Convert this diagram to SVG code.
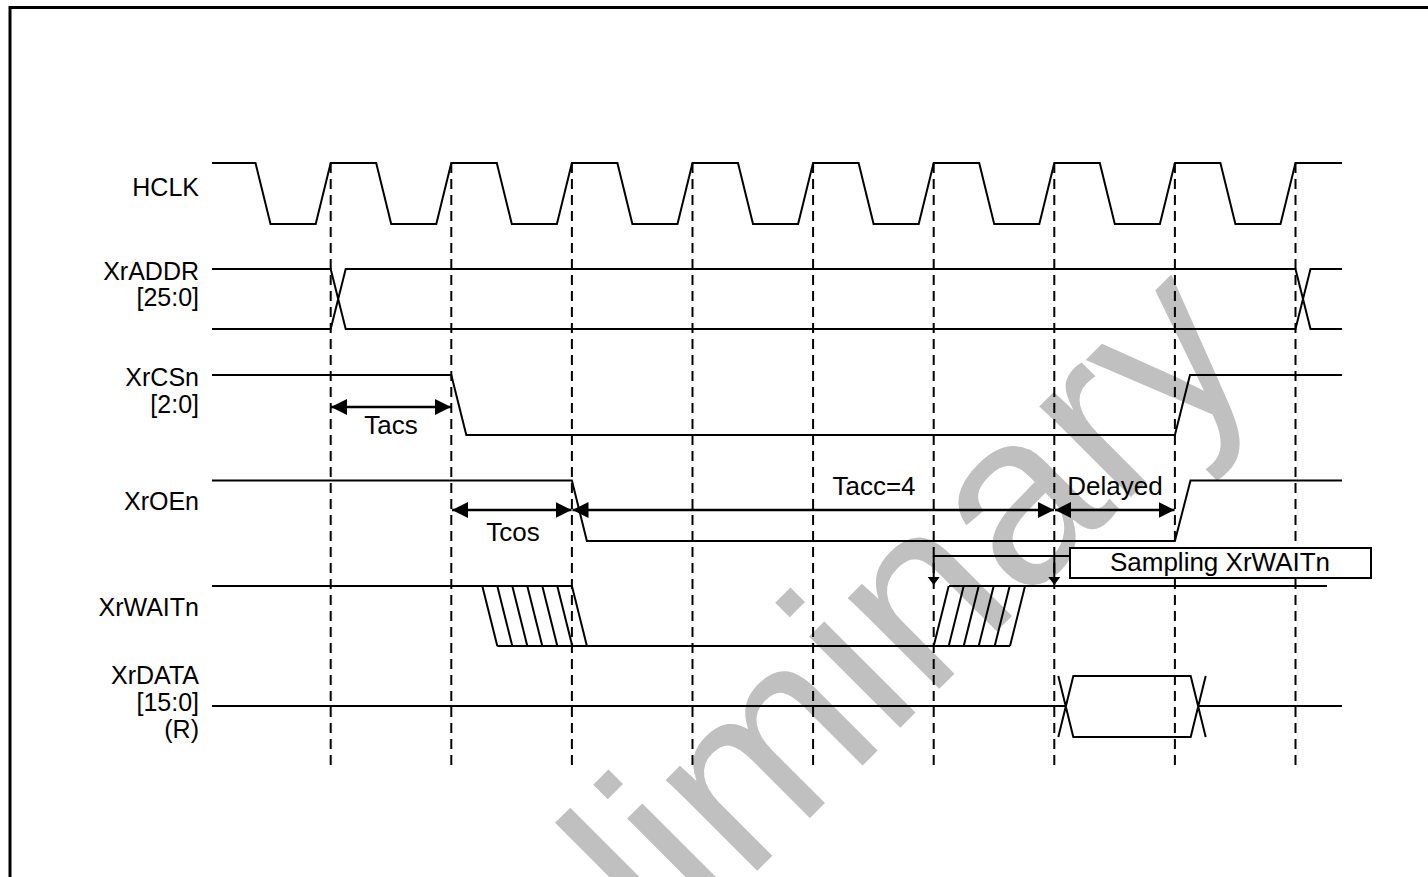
<svg xmlns="http://www.w3.org/2000/svg" width="1428" height="877" viewBox="0 0 1428 877">
<style>
.sig{fill:none;stroke:#000;stroke-width:2;stroke-linejoin:miter}
.dash{fill:none;stroke:#000;stroke-width:2;stroke-dasharray:10 6}
.dim{fill:none;stroke:#000;stroke-width:2.5}
.lbl{font-family:"Liberation Sans",Arial,sans-serif;font-size:26px;fill:#000}
.sl{font-family:"Liberation Sans",Arial,sans-serif;font-size:25px;fill:#000;text-anchor:end}
.c{text-anchor:middle}
</style>
<defs>
<marker id="ah" viewBox="0 0 16 16" refX="16" refY="8" markerWidth="16" markerHeight="16" markerUnits="userSpaceOnUse" orient="auto-start-reverse">
<path d="M0,0 L16,8 L0,16 z" fill="#000"/>
</marker>
</defs>
<rect x="0" y="0" width="1428" height="877" fill="#fff"/>
<text transform="translate(400,1228) rotate(-45)" font-family="Liberation Sans,Arial,sans-serif" font-size="244" fill="#c0c0c0">Preliminary</text>
<rect x="10" y="7.5" width="1440" height="900" fill="none" stroke="#000" stroke-width="3"/>

<g id="connectors">
<path class="dash" d="M330.7,163V770M451.3,163V770M571.9,163V770M692.5,163V770M813.1,163V770M933.7,163V770M1054.3,163V770M1174.9,163V770M1295.5,163V770"/>
<line class="dim" x1="331" y1="407" x2="451" y2="407" marker-start="url(#ah)" marker-end="url(#ah)"/>
<line class="dim" x1="452" y1="510" x2="571.5" y2="510" marker-start="url(#ah)" marker-end="url(#ah)"/>
<line class="dim" x1="572.5" y1="510" x2="1054" y2="510" marker-start="url(#ah)" marker-end="url(#ah)"/>
<line class="dim" x1="1055" y1="510" x2="1174.5" y2="510" marker-start="url(#ah)" marker-end="url(#ah)"/>
<path class="sig" d="M933.7,556H1070M933.7,556V578M1054.3,556V578"/>
<path d="M927.7,577 L939.7,577 L933.7,585z M1048.3,577 L1060.3,577 L1054.3,585z" fill="#000"/>
<text class="lbl c" x="391" y="434">Tacs</text>
<text class="lbl c" x="513" y="541">Tcos</text>
<text class="lbl c" x="874" y="495">Tacc=4</text>
<text class="lbl c" x="1115" y="495">Delayed</text>
</g>

<g id="hclk">
<text class="sl" x="199" y="196">HCLK</text>
<path class="sig" d="M212,163 H255.5 L270.5,224 H315.7 L330.7,163 H376.2 L391.2,224 H436.3 L451.3,163 H496.8 L511.8,224 H556.9 L571.9,163 H617.4 L632.4,224 H677.5 L692.5,163 H738 L753,224 H798.1 L813.1,163 H858.6 L873.6,224 H918.7 L933.7,163 H979.2 L994.2,224 H1039.3 L1054.3,163 H1099.8 L1114.8,224 H1159.9 L1174.9,163 H1220.4 L1235.4,224 H1280.5 L1295.5,163 H1342"/>
</g>

<g id="xraddr">
<text class="sl" x="199" y="280">XrADDR</text>
<text class="sl" x="199" y="306">[25:0]</text>
<path class="sig" d="M212,269 H330.7 L345.7,329 H1295.5 L1310.5,269 H1342 M212,329 H330.7 L345.7,269 H1295.5 L1310.5,329 H1342"/>
</g>

<g id="xrcsn">
<text class="sl" x="199" y="386">XrCSn</text>
<text class="sl" x="199" y="413">[2:0]</text>
<path class="sig" d="M212,375 H451.3 L466.3,435 H1174.9 L1190,375 H1342"/>
</g>

<g id="xroen">
<text class="sl" x="199" y="510">XrOEn</text>
<path class="sig" d="M212,480.5 H571.9 L586.9,541 H1174.9 L1190.5,480.5 H1342"/>
</g>

<g id="xrwaitn">
<text class="sl" x="199" y="616">XrWAITn</text>
<path class="sig" d="M212,586 H571.9 L586.9,646 M497.3,646 H1010 M949,586 H1327"/>
<path class="sig" stroke-width="1.5" d="M482.3,586 L497.3,646 M497.3,586 L512.3,646 M512.3,586 L527.3,646 M527.3,586 L542.3,646 M542.3,586 L557.3,646 M557.3,586 L572.3,646 M933.7,646 L948.7,586 M948.7,646 L963.7,586 M963.7,646 L978.7,586 M978.7,646 L993.7,586 M994.7,646 L1009.7,586 M1010,646 L1025,586"/>
</g>

<g id="sampling">
<rect x="1070" y="548" width="301" height="30" fill="#fff" stroke="#000" stroke-width="2"/>
<text class="lbl c" x="1220" y="571">Sampling XrWAITn</text>
</g>

<g id="xrdata">
<text class="sl" x="199" y="684">XrDATA</text>
<text class="sl" x="199" y="711">[15:0]</text>
<text class="sl" x="199" y="738">(R)</text>
<path class="sig" d="M212,706 H1065.8 M1198.2,706 H1342 M1058.3,676 L1073.3,737 H1190.7 L1205.7,676 M1058.3,737 L1073.3,676 H1190.7 L1205.7,737"/>
</g>
</svg>
